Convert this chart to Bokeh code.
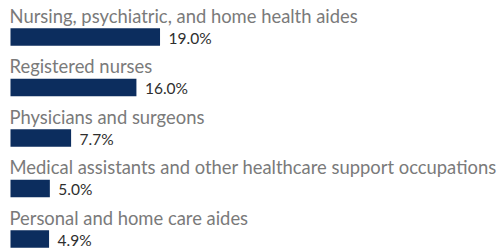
from bokeh.plotting import figure
from bokeh.models import Range1d, ColumnDataSource
from bokeh.core.properties import value
from bokeh.embed import file_html
from bokeh.resources import INLINE

occupations = [
    "Nursing, psychiatric, and home health aides",
    "Registered nurses",
    "Physicians and surgeons",
    "Medical assistants and other healthcare support occupations",
    "Personal and home care aides",
]
shares = [19.0, 16.0, 7.7, 5.0, 4.9]
share_labels = ["19.0%", "16.0%", "7.7%", "5.0%", "4.9%"]

W, H = 501, 252
PX_PER_UNIT = 7.87
LEFT_PX = 10.0
ROW_PX = 50.5
TOP_PX = 36.5
BAR_PX = 17.5

rows = list(range(len(occupations)))
src = ColumnDataSource(dict(
    row=rows,
    occ=occupations,
    share=shares,
    lab=share_labels,
    label_y=[r - 21.5 / ROW_PX for r in rows],
    val_x=[s + 8.5 / PX_PER_UNIT for s in shares],
    val_y=[r + 0.5 / ROW_PX for r in rows],
))

x0 = -LEFT_PX / PX_PER_UNIT
y_top = -TOP_PX / ROW_PX
p = figure(width=W, height=H, output_backend="svg", toolbar_location=None,
           x_range=Range1d(x0, x0 + W / PX_PER_UNIT),
           y_range=Range1d(y_top + H / ROW_PX, y_top),
           min_border=0, outline_line_color=None)
p.axis.visible = False
p.grid.visible = False
p.background_fill_color = "white"

p.hbar(y="row", left=0, right="share", height=BAR_PX / ROW_PX, source=src,
       fill_color="#0c2d5e", line_color=None)
p.text(x=x0 + 9.0 / PX_PER_UNIT, y="label_y", text="occ", source=src,
       text_font=value("Lato"), text_font_size="18.4px", text_color="#7a7a7a",
       text_baseline="alphabetic", text_align="left")
p.text(x="val_x", y="val_y", text="lab", source=src,
       text_font=value("Lato"), text_font_size="15.5px", text_color="#2e2e2e",
       text_font_style="normal",
       text_baseline="alphabetic", text_align="left")

open("out.html", "w").write(file_html(p, INLINE))
